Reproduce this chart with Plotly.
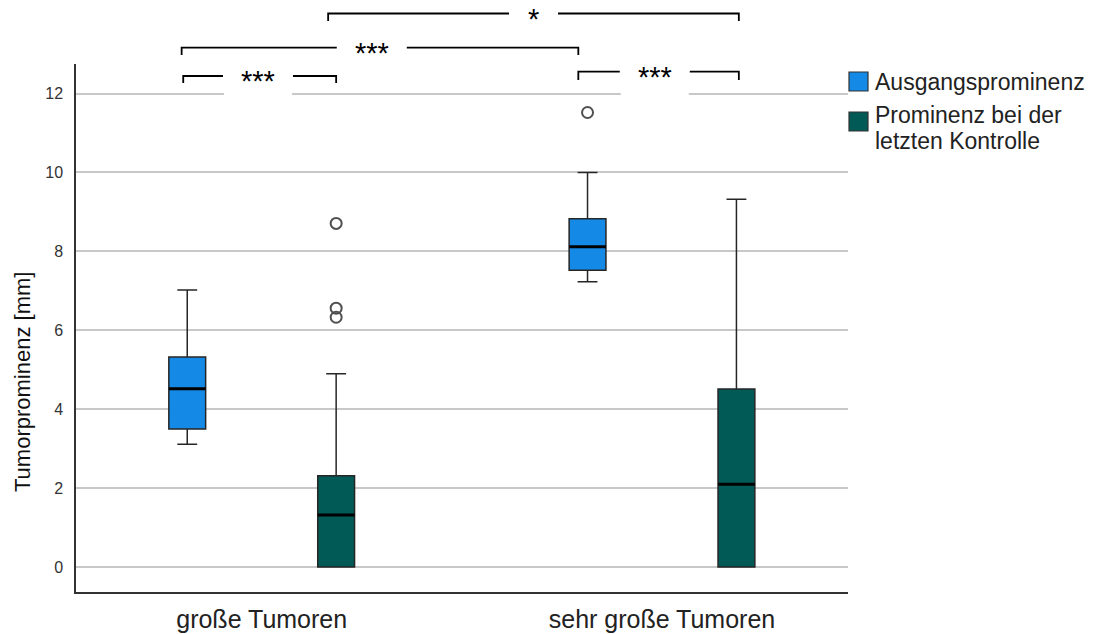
import plotly.graph_objects as go

# ---------------- data ----------------
categories = ["große Tumoren", "sehr große Tumoren"]
series_names = ["Ausgangsprominenz", "Prominenz bei der letzten Kontrolle"]
series_colors = ["#1589e6", "#015a56"]

base_lower = [3.11, 7.23]
base_q1 = [3.50, 7.52]
base_median = [4.52, 8.12]
base_q3 = [5.32, 8.83]
base_upper = [7.02, 10.00]
base_outliers = [[], [11.52]]

last_lower = [0.0, 0.0]
last_q1 = [0.0, 0.0]
last_median = [1.32, 2.10]
last_q3 = [2.31, 4.51]
last_upper = [4.90, 9.32]
last_outliers = [[6.33, 6.56, 8.71], []]

y_ticks = [0, 2, 4, 6, 8, 10, 12]
y_title = "Tumorprominenz [mm]"

# significance labels (pairs compared)
sig_labels = ["***", "***", "***", "*"]

# ---------------- layout constants ----------------
W, H = 1096, 634
ML, MR, MT, MB = 76, 248, 64, 42
PW, PH = W - ML - MR, H - MT - MB
XMIN, XMAX = -0.4639, 1.4647
YMIN, YMAX = -0.634, 12.75
OFF = 0.186
BW = 0.092
FONT = "Liberation Sans, Arial, sans-serif"


def px_x(px):
    return (px - ML) / PW


def px_y(py):
    return (H - MB - py) / PH


def data_to_paper_x(x):
    return (x - XMIN) / (XMAX - XMIN)


fig = go.Figure()

groups = [
    (base_lower, base_q1, base_median, base_q3, base_upper, base_outliers, -OFF, series_colors[0], series_names[0]),
    (last_lower, last_q1, last_median, last_q3, last_upper, last_outliers, OFF, series_colors[1], series_names[1]),
]

for lo, q1, med, q3, up, outs, off, col, name in groups:
    xs = [i + off for i in range(len(categories))]
    fig.add_trace(go.Box(
        x=xs, q1=q1, median=med, q3=q3, lowerfence=lo, upperfence=up,
        width=BW, whiskerwidth=0.54, boxpoints=False,
        fillcolor=col, line=dict(color="#262626", width=1.5),
        name=name, showlegend=False, hoverinfo="skip",
    ))
    for i, m in enumerate(med):
        fig.add_trace(go.Scatter(
            x=[xs[i] - BW / 2, xs[i] + BW / 2], y=[m, m], mode="lines",
            line=dict(color="#000000", width=3), showlegend=False, hoverinfo="skip",
        ))
    ox, oy = [], []
    for i, o in enumerate(outs):
        for v in o:
            ox.append(xs[i])
            oy.append(v)
    if ox:
        fig.add_trace(go.Scatter(
            x=ox, y=oy, mode="markers",
            marker=dict(symbol="circle-open", size=11, color="#505050", line=dict(width=2, color="#505050")),
            showlegend=False, hoverinfo="skip",
        ))

# ---------------- brackets ----------------
# (left x, right x, horizontal y px, leg end y px, label centre x, half gap px)
bracket_geom = [
    (-0.196, 0.186, 76.0, 83.0, -0.0093, 35),
    (0.791, 1.192, 71.7, 80.0, 0.982, 35),
    (-0.200, 0.791, 47.7, 55.0, 0.275, 35),
    (0.166, 1.192, 13.5, 21.0, 0.679, 24.5),
]
shapes = []
annotations = []
for label, geom in zip(sig_labels, bracket_geom):
    xl, xr, yh, yl, xc, gap = geom
    pxl = data_to_paper_x(xl)
    pxr = data_to_paper_x(xr)
    pxc = data_to_paper_x(xc)
    g = gap / PW
    shapes.append(dict(type="path", xref="paper", yref="paper",
                       path=f"M {pxl} {px_y(yl)} L {pxl} {px_y(yh)} L {pxc - g} {px_y(yh)}",
                       line=dict(color="#000", width=1.8), layer="above"))
    shapes.append(dict(type="path", xref="paper", yref="paper",
                       path=f"M {pxc + g} {px_y(yh)} L {pxr} {px_y(yh)} L {pxr} {px_y(yl)}",
                       line=dict(color="#000", width=1.8), layer="above"))
    if yh > 60:
        # mask gridline behind label
        shapes.append(dict(type="rect", xref="paper", yref="paper",
                           x0=pxc - g + 1 / PW, x1=pxc + g - 1 / PW, y0=px_y(98), y1=px_y(66),
                           fillcolor="white", line=dict(width=0), layer="above"))
    annotations.append(dict(text=label, xref="paper", yref="paper", x=pxc, y=px_y(yh + 5),
                            xanchor="center", yanchor="middle", showarrow=False,
                            font=dict(family=FONT, size=29, color="#000")))

# ---------------- legend ----------------
legend_rows = [(72, 91, [(series_names[0], 81.5)]),
               (112, 131, [("Prominenz bei der", 115.0), ("letzten Kontrolle", 141.0)])]
for (y0, y1, texts), col in zip(legend_rows, series_colors):
    shapes.append(dict(type="rect", xref="paper", yref="paper",
                       x0=px_x(849), x1=px_x(868), y0=px_y(y1), y1=px_y(y0),
                       fillcolor=col, line=dict(color="#333", width=1.2)))
    for t, yc in texts:
        annotations.append(dict(text=t, xref="paper", yref="paper", x=px_x(874), y=px_y(yc),
                                xanchor="left", yanchor="middle", showarrow=False, borderpad=0,
                                font=dict(family=FONT, size=23, color="#222")))

# y-axis title
annotations.append(dict(text=y_title, xref="paper", yref="paper", x=px_x(22), y=px_y(382),
                        xanchor="center", yanchor="middle", textangle=-90, showarrow=False,
                        font=dict(family=FONT, size=22, color="#111")))

fig.update_layout(
    width=W, height=H,
    margin=dict(l=ML, r=MR, t=MT, b=MB, pad=0, autoexpand=False),
    paper_bgcolor="white", plot_bgcolor="white",
    showlegend=False,
    shapes=shapes, annotations=annotations,
    font=dict(family=FONT),
    xaxis=dict(range=[XMIN, XMAX], tickvals=list(range(len(categories))), ticktext=categories,
               showgrid=False, zeroline=False, showline=True, linecolor="#333", linewidth=1.5,
               automargin=False, ticks="", ticklabelstandoff=4,
               tickfont=dict(family=FONT, size=25, color="#222")),
    yaxis=dict(range=[YMIN, YMAX], tickvals=y_ticks, showgrid=True, gridcolor="#c8c8c8", gridwidth=1.5,
               zeroline=False, showline=True, linecolor="#333", linewidth=1.5, automargin=False,
               ticks="", ticklabelstandoff=8, tickfont=dict(family=FONT, size=16, color="#333")),
)

fig.write_html("out.html")
